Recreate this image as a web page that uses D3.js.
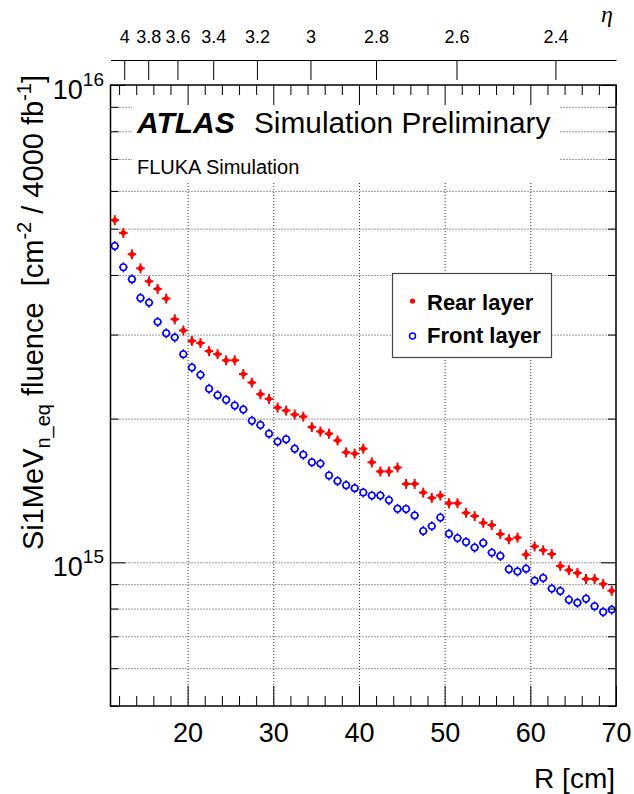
<!DOCTYPE html>
<html>
<head>
<meta charset="utf-8">
<script src="https://cdn.jsdelivr.net/npm/d3@7"></script>
<style>
  body { margin: 0; background: #fff; }
  text { font-family: "Liberation Sans", Arial, Helvetica, sans-serif; white-space: pre; }
  .grid line { stroke: #333; stroke-width: 1; stroke-dasharray: 1,2; }
</style>
</head>
<body>
<svg id="chart" width="634" height="794"></svg>
<script>
// --- data ---
// bin centres in R [cm]
const radius = [
  11.5, 12.5, 13.5, 14.5, 15.5, 16.5, 17.5, 18.5, 19.5, 20.5,
  21.5, 22.5, 23.5, 24.5, 25.5, 26.5, 27.5, 28.5, 29.5, 30.5,
  31.5, 32.5, 33.5, 34.5, 35.5, 36.5, 37.5, 38.5, 39.5, 40.5,
  41.5, 42.5, 43.5, 44.5, 45.5, 46.5, 47.5, 48.5, 49.5, 50.5,
  51.5, 52.5, 53.5, 54.5, 55.5, 56.5, 57.5, 58.5, 59.5, 60.5,
  61.5, 62.5, 63.5, 64.5, 65.5, 66.5, 67.5, 68.5, 69.5
];
// fluence in units of 1e15 cm^-2
const rearLayer = [
  5.21, 4.90, 4.42, 4.13, 3.88, 3.74, 3.57, 3.23, 3.06, 2.91,
  2.88, 2.77, 2.73, 2.65, 2.65, 2.48, 2.38, 2.25, 2.20, 2.11,
  2.08, 2.04, 2.02, 1.92, 1.88, 1.86, 1.80, 1.70, 1.69, 1.73,
  1.62, 1.55, 1.55, 1.58, 1.46, 1.46, 1.40, 1.365, 1.38, 1.33,
  1.33, 1.27, 1.25, 1.21, 1.197, 1.146, 1.118, 1.127, 1.038, 1.080,
  1.060, 1.041, 0.982, 0.963, 0.950, 0.923, 0.923, 0.901, 0.872
];
const frontLayer = [
  4.60, 4.15, 3.92, 3.58, 3.50, 3.19, 3.02, 2.96, 2.73, 2.56,
  2.47, 2.31, 2.24, 2.19, 2.13, 2.09, 1.98, 1.94, 1.86, 1.79,
  1.81, 1.73, 1.68, 1.62, 1.61, 1.52, 1.48, 1.45, 1.43, 1.40,
  1.38, 1.38, 1.35, 1.295, 1.293, 1.254, 1.163, 1.191, 1.241, 1.148,
  1.124, 1.103, 1.074, 1.098, 1.048, 1.031, 0.967, 0.957, 0.970, 0.915,
  0.927, 0.881, 0.871, 0.835, 0.823, 0.839, 0.809, 0.787, 0.796
];
const unit = 1e15;
const relError = 0.024;     // vertical error bar (relative)
const binHalfWidth = 0.5;   // horizontal error bar [cm]

const xTicks = [20, 30, 40, 50, 60, 70];
const yLabelTicks = [{ v: 1e15, exp: "15" }, { v: 1e16, exp: "16" }];
const etaTicks = [4, 3.8, 3.6, 3.4, 3.2, 3, 2.8, 2.6, 2.4];
const zFace = 344; // cm, z position used for the eta axis

// --- layout ---
const frame = { left: 110.5, right: 616, top: 85, bottom: 706 };
const fontFamily = '"Liberation Sans", Arial, Helvetica, sans-serif';

const svg = d3.select("#chart");
svg.append("rect").attr("width", 634).attr("height", 794).attr("fill", "#fff");

const x = d3.scaleLinear().domain([11, 70]).range([frame.left, frame.right]);
const y = d3.scaleLog().domain([5e14, 1e16]).range([frame.bottom, frame.top]);

const yAllTicks = y.ticks();
const isDecade = v => Math.abs(Math.log10(v) - Math.round(Math.log10(v))) < 1e-9;
const yMinor = yAllTicks.filter(v => !isDecade(v));
const xMinor = d3.range(12, 70, 2).filter(v => v % 10 !== 0);

// --- grid ---
svg.append("g")
  .attr("class", "grid")
  .attr("transform", `translate(0,${frame.bottom})`)
  .call(d3.axisBottom(x).tickValues(xTicks.filter(v => v < 70))
    .tickSize(-(frame.bottom - frame.top)).tickFormat(""))
  .call(g => g.select(".domain").remove());

svg.append("g")
  .attr("class", "grid")
  .attr("transform", `translate(${frame.left},0)`)
  .call(d3.axisLeft(y).tickValues(yAllTicks.filter(v => v > 5e14 && v < 1e16))
    .tickSize(-(frame.right - frame.left)).tickFormat(""))
  .call(g => g.select(".domain").remove());

// white box behind the header text
svg.append("rect")
  .attr("x", 132).attr("y", frame.top + 1)
  .attr("width", 428).attr("height", 96)
  .attr("fill", "#fff");

// --- data points ---
function drawSeries(values, color, open) {
  const pts = radius.map((r, i) => ({ r: r, v: values[i] * unit }));
  const g = svg.append("g").attr("stroke", color).attr("stroke-width", open ? 1.5 : 2);
  const rad = open ? 3.2 : 0;

  pts.forEach(d => {
    const cx = x(d.r), cy = y(d.v);
    const x0 = x(d.r - binHalfWidth), x1 = x(d.r + binHalfWidth);
    const yTop = y(d.v * (1 + relError)), yBot = y(d.v * (1 - relError));
    g.append("line").attr("x1", x0).attr("x2", cx - rad).attr("y1", cy).attr("y2", cy);
    g.append("line").attr("x1", cx + rad).attr("x2", x1).attr("y1", cy).attr("y2", cy);
    g.append("line").attr("x1", cx).attr("x2", cx).attr("y1", yTop).attr("y2", cy - rad);
    g.append("line").attr("x1", cx).attr("x2", cx).attr("y1", cy + rad).attr("y2", yBot);
    if (open) {
      g.append("circle").attr("cx", cx).attr("cy", cy).attr("r", rad).attr("fill", "none");
    } else {
      g.append("circle").attr("cx", cx).attr("cy", cy).attr("r", 2.6)
        .attr("fill", color).attr("stroke", "none");
    }
  });
}
drawSeries(rearLayer, "#ff0000", false);
drawSeries(frontLayer, "#0000ff", true);

// --- frame and ticks ---
function ticks(axis, transform) {
  svg.append("g")
    .attr("transform", transform)
    .call(axis)
    .call(g => g.select(".domain").remove())
    .call(g => g.selectAll("line").attr("stroke", "#000"));
}
ticks(d3.axisBottom(x).tickValues(xTicks).tickSize(-20).tickFormat(""), `translate(0,${frame.bottom})`);
ticks(d3.axisBottom(x).tickValues(xMinor).tickSize(-10).tickFormat(""), `translate(0,${frame.bottom})`);
ticks(d3.axisTop(x).tickValues(xTicks).tickSize(-20).tickFormat(""), `translate(0,${frame.top})`);
ticks(d3.axisTop(x).tickValues(xMinor).tickSize(-10).tickFormat(""), `translate(0,${frame.top})`);
ticks(d3.axisLeft(y).tickValues(yLabelTicks.map(d => d.v)).tickSize(-15).tickFormat(""), `translate(${frame.left},0)`);
ticks(d3.axisLeft(y).tickValues(yMinor).tickSize(-8).tickFormat(""), `translate(${frame.left},0)`);
ticks(d3.axisRight(y).tickValues(yLabelTicks.map(d => d.v)).tickSize(-15).tickFormat(""), `translate(${frame.right},0)`);
ticks(d3.axisRight(y).tickValues(yMinor).tickSize(-8).tickFormat(""), `translate(${frame.right},0)`);

svg.append("rect")
  .attr("x", frame.left).attr("y", frame.top)
  .attr("width", frame.right - frame.left).attr("height", frame.bottom - frame.top)
  .attr("fill", "none").attr("stroke", "#000").attr("stroke-width", 1.5);

// x tick labels
svg.append("g")
  .attr("transform", `translate(0,${frame.bottom})`)
  .call(d3.axisBottom(x).tickValues(xTicks).tickSize(0).tickPadding(17).tickFormat(d3.format("d")))
  .call(g => g.select(".domain").remove())
  .attr("font-size", 27).attr("font-family", fontFamily);

// y tick labels (10^n)
yLabelTicks.forEach(d => {
  const t = svg.append("text")
    .attr("x", 104).attr("y", y(d.v) + 13.5)
    .attr("text-anchor", "end").attr("font-size", 27);
  t.append("tspan").text("10");
  t.append("tspan").attr("font-size", 19).attr("dy", -13).text(d.exp);
});

// --- eta axis on top ---
const etaR = etaTicks.map(e => zFace / Math.sinh(e));
svg.append("g")
  .attr("transform", "translate(0,60)")
  .call(d3.axisTop(x).tickValues(etaR).tickSize(-20).tickSizeOuter(0).tickPadding(17)
    .tickFormat((d, i) => etaTicks[i]))
  .attr("font-size", 18).attr("font-family", fontFamily);

svg.append("text")
  .attr("x", 607).attr("y", 22)
  .attr("text-anchor", "middle")
  .attr("font-size", 24).attr("font-style", "italic")
  .style("font-family", '"Liberation Serif", "DejaVu Serif", serif')
  .text("η");

// --- axis titles ---
svg.append("text")
  .attr("x", 615).attr("y", 788)
  .attr("text-anchor", "end").attr("font-size", 28)
  .text("R [cm]");

const yTitle = svg.append("text")
  .attr("transform", "translate(43,75) rotate(-90)")
  .attr("text-anchor", "end").attr("font-size", 29);
yTitle.append("tspan").text("Si1MeV");
yTitle.append("tspan").attr("font-size", 20).attr("dy", 7).text("n_eq");
yTitle.append("tspan").attr("dy", -7).text(" fluence  [cm");
yTitle.append("tspan").attr("font-size", 20).attr("dy", -12).text("-2");
yTitle.append("tspan").attr("dy", 12).text(" / 4000 fb");
yTitle.append("tspan").attr("font-size", 20).attr("dy", -12).text("-1");
yTitle.append("tspan").attr("dy", 12).text("]");

// --- ATLAS label ---
svg.append("text")
  .attr("x", 137).attr("y", 133)
  .attr("font-size", 30).attr("font-weight", "bold").attr("font-style", "italic")
  .text("ATLAS");
svg.append("text")
  .attr("x", 254).attr("y", 133)
  .attr("font-size", 29.8)
  .text("Simulation Preliminary");
svg.append("text")
  .attr("x", 137).attr("y", 174)
  .attr("font-size", 20)
  .text("FLUKA Simulation");

// --- legend ---
const legend = svg.append("g");
legend.append("rect")
  .attr("x", 392.5).attr("y", 273.5).attr("width", 159).attr("height", 84)
  .attr("fill", "#fff").attr("stroke", "#444").attr("stroke-width", 1.2);
legend.append("circle").attr("cx", 412.5).attr("cy", 301).attr("r", 2.6).attr("fill", "#ff0000");
legend.append("circle").attr("cx", 412.5).attr("cy", 336).attr("r", 3)
  .attr("fill", "none").attr("stroke", "#0000ff").attr("stroke-width", 1.5);
legend.append("text").attr("x", 427).attr("y", 309.5)
  .attr("font-size", 22).attr("font-weight", "bold").text("Rear layer");
legend.append("text").attr("x", 427).attr("y", 342.5)
  .attr("font-size", 22).attr("font-weight", "bold").text("Front layer");
</script>
</body>
</html>
